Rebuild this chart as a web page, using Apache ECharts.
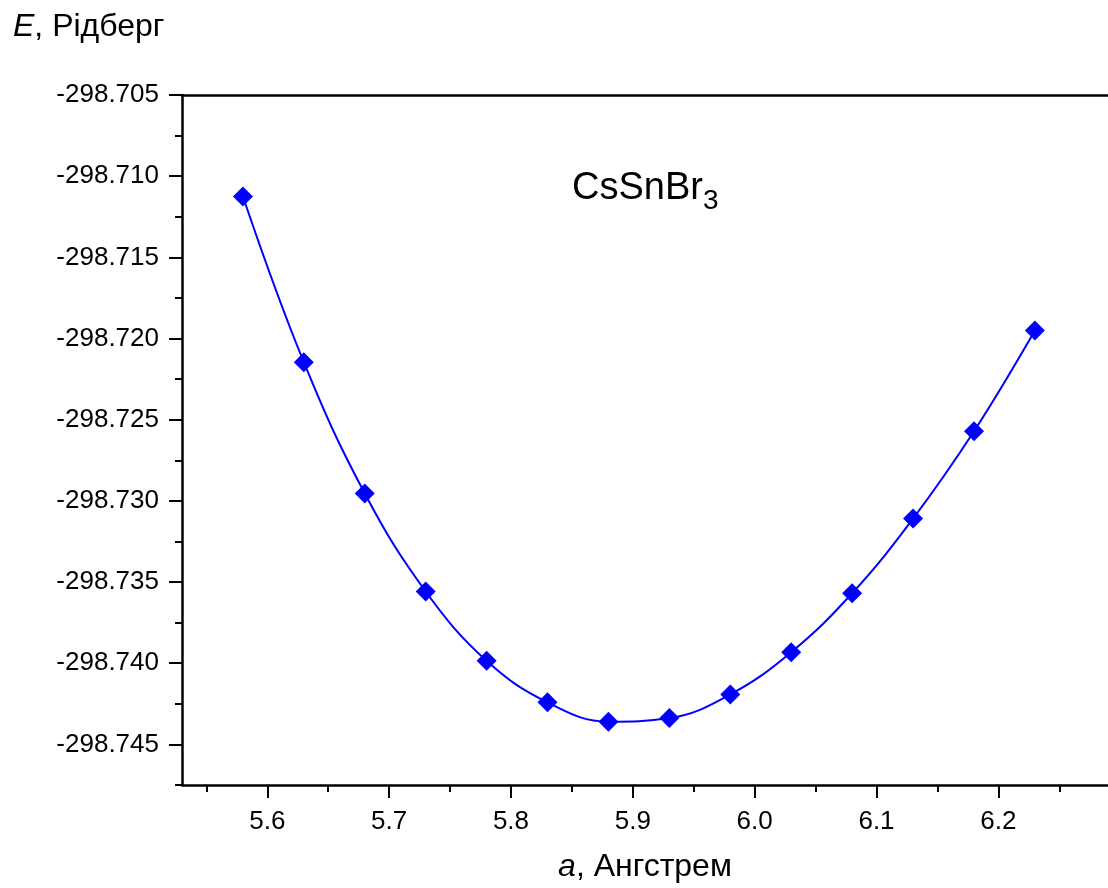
<!DOCTYPE html>
<html>
<head>
<meta charset="utf-8">
<script src="https://cdn.jsdelivr.net/npm/echarts@6/dist/echarts.min.js"></script>
<style>
  html, body { margin: 0; padding: 0; background: #fff; }
  #chart { width: 1108px; height: 888px; }
</style>
</head>
<body>
<div id="chart"></div>
<script>
// lattice constant (Angstrom) and total energy (Rydberg)
const latticeA = [5.58, 5.63, 5.68, 5.73, 5.78, 5.83, 5.88, 5.93, 5.98, 6.03, 6.08, 6.13, 6.18, 6.23];
const energyRy = [-298.71125, -298.72146, -298.72954, -298.73558, -298.73985, -298.74241, -298.74360,
                  -298.74338, -298.74192, -298.73932, -298.73569, -298.73109, -298.72571, -298.71950];

const xMajorTicks = [5.6, 5.7, 5.8, 5.9, 6.0, 6.1, 6.2];
const xMinorTicks = [5.55, 5.65, 5.75, 5.85, 5.95, 6.05, 6.15, 6.25];
const yMajorTicks = [-298.745, -298.740, -298.735, -298.730, -298.725, -298.720, -298.715, -298.710, -298.705];
const yMinorTicks = [-298.7475, -298.7425, -298.7375, -298.7325, -298.7275, -298.7225, -298.7175, -298.7125, -298.7075];

const FONT = '"Liberation Sans", Arial, sans-serif';
const X_MIN = 5.53, X_MAX = 6.29;
const Y_MIN = -298.7475, Y_MAX = -298.705;

const chart = echarts.init(document.getElementById('chart'));

const pts = latticeA.map((a, i) => [a, energyRy[i]]);

const option = {
  animation: false,
  backgroundColor: '#fff',
  title: {
    text: '{i|E}, Рідберг',
    left: 8,
    top: 6,
    textStyle: {
      fontFamily: FONT, fontSize: 32, fontWeight: 'normal', color: '#000',
      rich: { i: { fontFamily: FONT, fontSize: 32, fontStyle: 'italic', color: '#000' } }
    }
  },
  grid: { left: 182, top: 95, right: -5, bottom: 102 },
  xAxis: [
    {
      type: 'value', min: X_MIN, max: X_MAX, position: 'bottom',
      name: '{i|a}, Ангстрем', nameLocation: 'middle', nameGap: 66,
      nameTextStyle: {
        fontFamily: FONT, fontSize: 32, color: '#000',
        rich: { i: { fontFamily: FONT, fontSize: 32, fontStyle: 'italic', color: '#000' } }
      },
      axisLine: { show: true, onZero: false, lineStyle: { color: '#000', width: 2.5 } },
      axisTick: { show: true, inside: false, length: 13, lineStyle: { color: '#000', width: 2 }, customValues: xMajorTicks },
      axisLabel: { show: true, margin: 24, fontFamily: FONT, fontSize: 26, color: '#000',
        customValues: xMajorTicks, formatter: v => v.toFixed(1) },
      splitLine: { show: false }
    },
    {
      type: 'value', min: X_MIN, max: X_MAX, position: 'bottom',
      axisLine: { show: false, onZero: false },
      axisTick: { show: true, inside: false, length: 7, lineStyle: { color: '#000', width: 2 }, customValues: xMinorTicks },
      axisLabel: { show: false },
      splitLine: { show: false }
    },
    {
      type: 'value', min: X_MIN, max: X_MAX, position: 'top',
      axisLine: { show: true, onZero: false, lineStyle: { color: '#000', width: 2.5 } },
      axisTick: { show: false },
      axisLabel: { show: false },
      splitLine: { show: false }
    }
  ],
  yAxis: [
    {
      type: 'value', min: Y_MIN, max: Y_MAX, position: 'left',
      axisLine: { show: true, onZero: false, lineStyle: { color: '#000', width: 2.5 } },
      axisTick: { show: true, inside: false, length: 13, lineStyle: { color: '#000', width: 2 }, customValues: yMajorTicks },
      axisLabel: { show: true, margin: 23, fontFamily: FONT, fontSize: 26, color: '#000',
        customValues: yMajorTicks, formatter: v => v.toFixed(3) },
      splitLine: { show: false }
    },
    {
      type: 'value', min: Y_MIN, max: Y_MAX, position: 'left',
      axisLine: { show: false, onZero: false },
      axisTick: { show: true, inside: false, length: 7, lineStyle: { color: '#000', width: 2 }, customValues: yMinorTicks },
      axisLabel: { show: false },
      splitLine: { show: false }
    }
  ],
  graphic: [
    {
      type: 'text',
      left: 572,
      top: 163,
      style: {
        text: '{n|CsSnBr}{s|3}',
        rich: {
          n: { fontFamily: FONT, fontSize: 38, fill: '#000', lineHeight: 44 },
          s: { fontFamily: FONT, fontSize: 28, fill: '#000', lineHeight: 44, padding: [24, 0, 0, 0] }
        }
      }
    }
  ],
  series: [
    {
      type: 'line',
      data: pts,
      smooth: 0.4,
      symbol: 'none',
      lineStyle: { color: '#0000ff', width: 2 },
      z: 2
    },
    {
      type: 'scatter',
      data: pts,
      symbol: 'diamond',
      symbolSize: 20,
      itemStyle: { color: '#0000ff', opacity: 1 },
      z: 3
    }
  ]
};

chart.setOption(option);
</script>
</body>
</html>
